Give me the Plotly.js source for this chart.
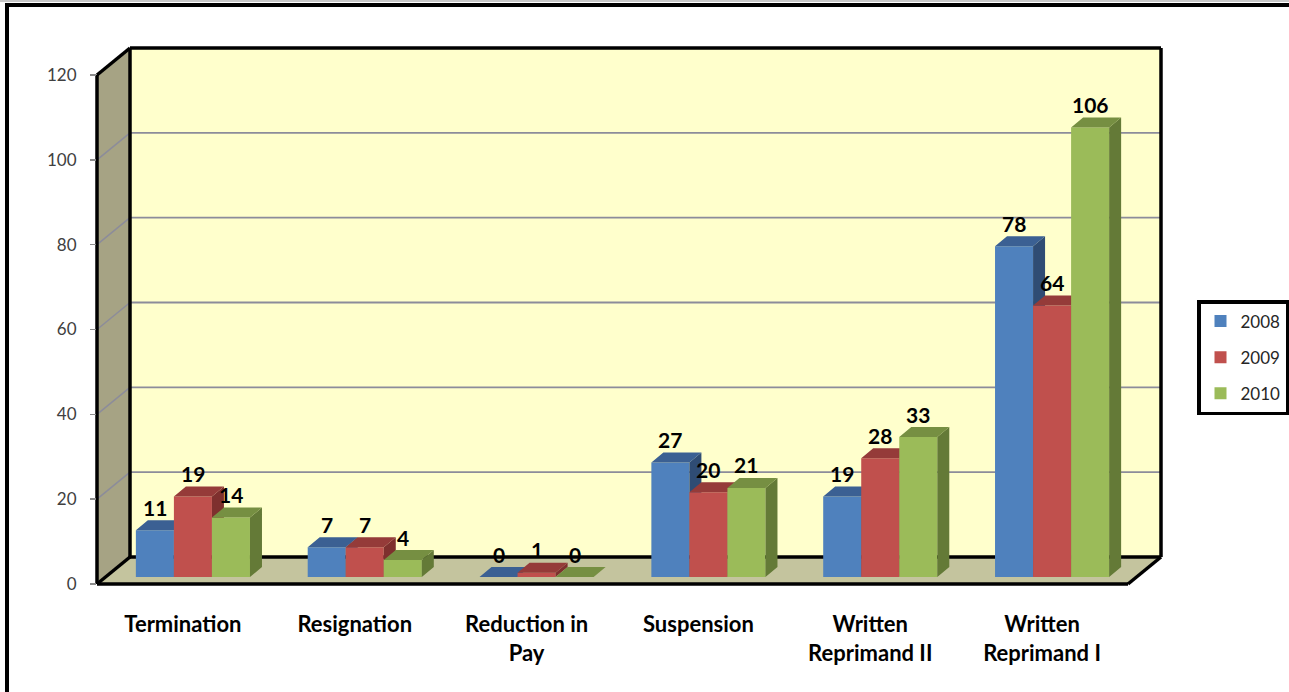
<!DOCTYPE html>
<html>
<head>
<meta charset="utf-8">
<script src="https://cdn.plot.ly/plotly-3.0.1.min.js"></script>
<style>
  html, body { margin: 0; padding: 0; background: #fff; }
  #chart { width: 1289px; height: 692px; }
</style>
</head>
<body>
<div id="chart"></div>
<script>
// ---- data ----
const categories = ['Termination', 'Resignation', 'Reduction in<br>Pay', 'Suspension', 'Written<br>Reprimand II', 'Written<br>Reprimand I'];
const years = ['2008', '2009', '2010'];
const values2008 = [11, 7, 0, 27, 19, 78];
const values2009 = [19, 7, 1, 20, 28, 64];
const values2010 = [14, 4, 0, 21, 33, 106];
const yTicks = [0, 20, 40, 60, 80, 100, 120];

const seriesValues = [values2008, values2009, values2010];

// ---- styling ----
const frontColors = ['#4F81BD', '#C0504D', '#9BBB59'];
const topColors   = ['#3B6093', '#953B39', '#768F42'];
const sideColors  = ['#2F4C74', '#7E302E', '#647A37'];
const FONT = 'Lato, "Open Sans", sans-serif';

// ---- geometry (pixels on the 1289x692 page) ----
const W = 1289, H = 692;
const X = p => p / W;           // page px -> paper x
const Y = p => 1 - p / H;       // page px -> paper y
const YMAX = 120;
const FRONT = { x0: 97, x1: 1128, y0: 584, y1: 75 };   // front plane of the box
const BACK = { dx: 33, dy: -27 };                        // back wall offset
const BARPLANE = { dx: 10, dy: -7 };                     // plane the bar fronts sit on
const DEPTH = { dx: 12, dy: 10 };                        // bar depth in px
const GROUP = 0.664;                                     // cluster width in category units
const BW = GROUP / 3;

const xUnit = (FRONT.x1 - FRONT.x0) / categories.length;
const yUnit = (FRONT.y0 - FRONT.y1) / YMAX;
const ddx = DEPTH.dx / xUnit;
const ddy = DEPTH.dy / yUnit;
const fy = v => FRONT.y0 - v * yUnit;   // front-plane pixel y of a value

// the bar plane sits a little behind the front plane: same scale, shifted ranges
const sx = BARPLANE.dx / xUnit;
const sy = -BARPLANE.dy / yUnit;
const barXRange = [-0.5 - sx, categories.length - 0.5 - sx];
const barYRange = [-sy, YMAX - sy];

// invisible point that keeps the front axes (category labels, value ticks) alive
const traces = [{
  type: 'scatter', mode: 'markers', xaxis: 'x', yaxis: 'y',
  x: [0], y: [0], marker: { opacity: 0, size: 1 }, hoverinfo: 'skip', showlegend: false
}];
const annotations = [];
const layout = {
  width: W, height: H,
  margin: { l: 0, r: 0, t: 0, b: 0 },
  paper_bgcolor: '#ffffff',
  plot_bgcolor: 'rgba(0,0,0,0)',
  showlegend: true,
  font: { family: FONT, color: '#262626' },
  xaxis: {
    domain: [X(FRONT.x0), X(FRONT.x1)],
    range: [-0.5, categories.length - 0.5],
    tickmode: 'array',
    tickvals: categories.map((_, i) => i),
    ticktext: categories,
    ticks: '', showgrid: false, zeroline: false, showline: false,
    ticklabelstandoff: 25,
    tickfont: { family: FONT, size: 22, color: '#000', weight: 'bold' },
    fixedrange: true
  },
  yaxis: {
    domain: [Y(FRONT.y0), Y(FRONT.y1)],
    range: [0, YMAX],
    tickmode: 'array',
    tickvals: yTicks,
    ticks: 'outside', ticklen: 6, tickcolor: '#8c8c8c', tickwidth: 1.5,
    ticklabelstandoff: 10,
    showgrid: false, zeroline: false, showline: false,
    tickfont: { family: FONT, size: 17, color: '#404040' },
    fixedrange: true
  },
  legend: {
    x: X(1197), y: Y(300), xanchor: 'left', yanchor: 'top',
    bgcolor: '#ffffff', bordercolor: '#000000', borderwidth: 3.5,
    font: { family: FONT, size: 17, color: '#262626' },
    traceorder: 'grouped', tracegroupgap: 11
  },
  shapes: [],
  annotations: annotations
};

// one overlaid subplot per series so each later series is painted over the earlier one
seriesValues.forEach((vals, s) => {
  const n = s + 2;
  const xa = 'x' + n, ya = 'y' + n;
  layout['xaxis' + n] = { overlaying: 'x', visible: false, fixedrange: true, range: barXRange };
  layout['yaxis' + n] = { overlaying: 'y', visible: false, fixedrange: true, range: barYRange };

  const offset = -GROUP / 2 + s * BW;
  const sideX = [], sideY = [], topX = [], topY = [];
  vals.forEach((v, i) => {
    const xl = i + offset, xr = xl + BW;
    sideX.push(xr, xr + ddx, xr + ddx, xr, xr, null);
    sideY.push(0, ddy, v + ddy, v, 0, null);
    topX.push(xl, xl + ddx, xr + ddx, xr, xl, null);
    topY.push(v, v + ddy, v + ddy, v, v, null);
    annotations.push({
      xref: xa, yref: ya, x: xl + BW / 2, y: v,
      text: String(v), showarrow: false,
      yanchor: 'middle', yshift: 23,
      font: { family: FONT, size: 21, color: '#000', weight: 'bold' }
    });
  });

  traces.push({
    type: 'scatter', mode: 'lines', xaxis: xa, yaxis: ya,
    x: sideX, y: sideY, fill: 'toself', fillcolor: sideColors[s],
    line: { width: 0, color: sideColors[s] }, hoverinfo: 'skip', showlegend: false
  });
  traces.push({
    type: 'scatter', mode: 'lines', xaxis: xa, yaxis: ya,
    x: topX, y: topY, fill: 'toself', fillcolor: topColors[s],
    line: { width: 0, color: topColors[s] }, hoverinfo: 'skip', showlegend: false
  });
  traces.push({
    type: 'bar', name: years[s], legendgroup: years[s],
    xaxis: xa, yaxis: ya,
    x: categories.map((_, i) => i), y: vals,
    width: BW, offset: offset,
    marker: { color: frontColors[s], line: { width: 0 } }
  });
});

// ---- the 3D box: walls, floor, gridlines and edges ----
const poly = pts => 'M' + pts.map(p => X(p[0]) + ',' + Y(p[1])).join('L') + 'Z';
const seg = (a, b) => 'M' + X(a[0]) + ',' + Y(a[1]) + 'L' + X(b[0]) + ',' + Y(b[1]);
const bx = x => x + BACK.dx, by = y => y + BACK.dy;

const fl = FRONT.x0, fr = FRONT.x1, fb = FRONT.y0, ft = FRONT.y1;
const wallShape = (path, fill) => ({ type: 'path', xref: 'paper', yref: 'paper', layer: 'below', path, fillcolor: fill, line: { width: 0 } });
const lineShape = (path, color, width) => ({ type: 'path', xref: 'paper', yref: 'paper', layer: 'below', path, line: { color, width } });

layout.shapes.push(wallShape(poly([[fl, ft], [bx(fl), by(ft)], [bx(fl), by(fb)], [fl, fb]]), '#A6A384'));       // side wall
layout.shapes.push(wallShape(poly([[bx(fl), by(ft)], [bx(fr), by(ft)], [bx(fr), by(fb)], [bx(fl), by(fb)]]), '#FFFFCC')); // back wall
layout.shapes.push(wallShape(poly([[fl, fb], [bx(fl), by(fb)], [bx(fr), by(fb)], [fr, fb]]), '#C4C49E'));       // floor

yTicks.filter(v => v > 0 && v < YMAX).forEach(v => {
  const y = fy(v);
  layout.shapes.push(lineShape(seg([fl, y], [bx(fl), by(y)]), '#8c8c9a', 1.5));
  layout.shapes.push(lineShape(seg([bx(fl), by(y)], [bx(fr), by(y)]), '#8c8c9a', 1.8));
});

const edges = [
  [[fl, ft], [fl, fb]],
  [[fl, ft], [bx(fl), by(ft)]],
  [[bx(fl), by(ft)], [bx(fr), by(ft)]],
  [[bx(fl), by(ft)], [bx(fl), by(fb)]],
  [[bx(fr), by(ft)], [bx(fr), by(fb)]],
  [[bx(fl), by(fb)], [bx(fr), by(fb)]],
  [[fl, fb], [bx(fl), by(fb)]],
  [[fl, fb], [fr, fb]],
  [[fr, fb], [bx(fr), by(fb)]]
];
edges.forEach(e => layout.shapes.push(lineShape(seg(e[0], e[1]), '#000000', 3.5)));

// page frame
layout.shapes.push({ type: 'line', xref: 'paper', yref: 'paper', x0: 0, x1: 1, y0: Y(1), y1: Y(1), line: { color: '#c8c8c8', width: 2 } });
layout.shapes.push({ type: 'line', xref: 'paper', yref: 'paper', x0: X(5), x1: 1, y0: Y(5), y1: Y(5), line: { color: '#000000', width: 4 } });
layout.shapes.push({ type: 'line', xref: 'paper', yref: 'paper', x0: X(7), x1: X(7), y0: Y(3), y1: 0, line: { color: '#000000', width: 4 } });

Plotly.newPlot('chart', traces, layout, { staticPlot: true, displayModeBar: false });
</script>
</body>
</html>
